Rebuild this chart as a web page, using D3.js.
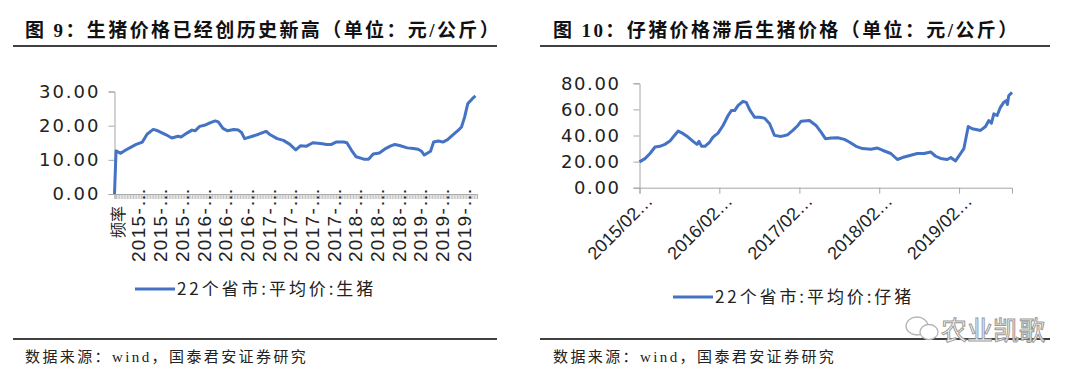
<!DOCTYPE html>
<html>
<head>
<meta charset="utf-8">
<script src="https://cdn.jsdelivr.net/npm/d3@7/dist/d3.min.js"></script>
<style>
  body { margin: 0; background: #fff; }
  svg { display: block; }
</style>
</head>
<body>
<svg id="chart"></svg>
<script>
// ---- figure 9: live hog price, weekly categories (index, price) ----
const hogWeek = [0, 1, 4, 7, 11, 14, 18, 21, 25, 28, 33, 37, 41, 43, 47, 50, 52, 55, 58, 62, 65, 67, 70, 73, 77, 80, 82, 84, 89, 93, 97, 98, 100, 105, 109, 113, 117, 120, 124, 128, 133, 137, 140, 143, 148, 150, 153, 156, 161, 164, 167, 171, 175, 178, 181, 184, 189, 193, 196, 198, 200, 204, 206, 209, 212, 215, 219, 222, 224, 226, 228, 231, 233];
const hogPrice = [0, 12.6, 11.9, 12.8, 13.8, 14.5, 15.2, 17.5, 18.9, 18.5, 17.4, 16.4, 16.9, 16.7, 17.9, 18.7, 18.5, 19.8, 20.1, 20.9, 21.4, 21.1, 19.2, 18.5, 18.9, 18.7, 18.0, 16.2, 16.9, 17.5, 18.2, 18.3, 17.5, 16.2, 15.7, 14.6, 12.9, 14.1, 14.0, 15.0, 14.8, 14.5, 14.5, 15.2, 15.2, 15.0, 12.8, 10.9, 10.2, 10.2, 11.7, 12.0, 13.3, 14.0, 14.5, 14.2, 13.5, 13.3, 13.1, 12.6, 11.4, 12.5, 15.2, 15.5, 15.2, 15.9, 17.5, 18.7, 19.6, 22.5, 26.4, 27.9, 28.7];
const hogWeekCount = 234;
const hogLabelEvery = 14;
const hogLabels = ["频率", "2015-…", "2015-…", "2015-…", "2016-…", "2016-…", "2016-…", "2017-…", "2017-…", "2017-…", "2017-…", "2018-…", "2018-…", "2018-…", "2019-…", "2019-…", "2019-…"];
const hogTicks = [0, 10, 20, 30];

// ---- figure 10: piglet price ----
const pigletDate = ["2015-02-01", "2015-02-26", "2015-03-21", "2015-04-13", "2015-05-05", "2015-05-28", "2015-06-20", "2015-07-05", "2015-07-28", "2015-08-20", "2015-09-11", "2015-10-04", "2015-10-22", "2015-10-31", "2015-11-12", "2015-11-27", "2015-12-19", "2016-01-03", "2016-01-26", "2016-02-18", "2016-03-12", "2016-03-27", "2016-04-11", "2016-04-26", "2016-05-19", "2016-06-03", "2016-06-19", "2016-07-11", "2016-08-03", "2016-08-26", "2016-09-18", "2016-10-10", "2016-11-10", "2016-12-10", "2017-01-02", "2017-01-25", "2017-02-09", "2017-03-19", "2017-04-18", "2017-05-11", "2017-05-31", "2017-06-26", "2017-07-26", "2017-08-26", "2017-09-17", "2017-10-18", "2017-11-17", "2017-12-25", "2018-01-24", "2018-02-16", "2018-03-26", "2018-04-25", "2018-05-18", "2018-06-25", "2018-07-25", "2018-08-25", "2018-09-24", "2018-10-17", "2018-11-09", "2018-12-09", "2018-12-25", "2019-01-16", "2019-02-08", "2019-02-23", "2019-03-15", "2019-04-02", "2019-04-25", "2019-05-10", "2019-06-02", "2019-06-17", "2019-06-29", "2019-07-10", "2019-07-25", "2019-08-09", "2019-08-24", "2019-09-04", "2019-09-10", "2019-09-16", "2019-10-01"];
const pigletPrice = [19.8, 22.3, 26.2, 31.2, 31.7, 33.2, 35.7, 38.8, 43.4, 41.4, 38.8, 35.5, 33.2, 35.5, 31.7, 31.7, 35.0, 38.8, 41.8, 47.7, 55.3, 59.1, 59.1, 62.9, 66.2, 65.4, 59.6, 54.0, 54.0, 53.3, 49.0, 40.1, 39.3, 40.6, 43.9, 47.7, 51.0, 51.5, 47.7, 42.6, 37.6, 38.0, 38.3, 37.0, 35.0, 31.7, 30.0, 29.4, 30.4, 28.7, 26.2, 21.6, 23.1, 24.9, 26.2, 26.2, 27.4, 24.1, 22.4, 21.6, 23.1, 20.5, 26.2, 30.0, 46.9, 45.2, 44.4, 43.9, 46.9, 51.5, 49.4, 56.6, 55.3, 61.6, 65.4, 66.7, 63.7, 70.5, 73.0];
const pigletTickDates = ["2015-02-01", "2016-02-01", "2017-02-01", "2018-02-01", "2019-02-01"];
const pigletLabels = ["2015/02…", "2016/02…", "2017/02…", "2018/02…", "2019/02…"];
const pigletTicks = [0, 20, 40, 60, 80];

const width = 1080, height = 377;
const blue = "#4472C4";
const axisGrey = "#a6a6a6";
const cjkSans = "'Noto Sans CJK SC', 'Noto Sans', sans-serif";
const cjkSerif = "'Liberation Serif', 'Noto Sans CJK SC', serif";
const numFont = "'DejaVu Sans', 'Liberation Sans', sans-serif";

const svg = d3.select("#chart").attr("width", width).attr("height", height);
svg.append("rect").attr("width", width).attr("height", height).attr("fill", "#fff");

// panel frame: title, rules, source
function panelFrame(x0, ruleX1, ruleX2, title) {
  svg.append("text")
    .attr("x", x0).attr("y", 37)
    .style("font-family", cjkSerif).style("font-weight", "bold")
    .style("font-size", "19px").style("letter-spacing", "2.4px")
    .attr("fill", "#111")
    .text(title);
  svg.append("line").attr("x1", ruleX1).attr("x2", ruleX2)
    .attr("y1", 46).attr("y2", 46).attr("stroke", "#000").attr("stroke-width", 1.3);
  svg.append("line").attr("x1", ruleX1).attr("x2", ruleX2)
    .attr("y1", 339).attr("y2", 339).attr("stroke", "#000").attr("stroke-width", 1.3);
  svg.append("text")
    .attr("x", x0).attr("y", 362)
    .style("font-family", cjkSerif).style("font-size", "15px")
    .style("letter-spacing", "2.4px")
    .attr("fill", "#222")
    .text("数据来源：wind，国泰君安证券研究");
}

function legend(x, y, label) {
  svg.append("line").attr("x1", x).attr("x2", x + 40).attr("y1", y).attr("y2", y)
    .attr("stroke", blue).attr("stroke-width", 3);
  svg.append("text").attr("x", x + 42).attr("y", y + 6)
    .style("font-family", cjkSans).style("font-size", "17px")
    .style("letter-spacing", "2.9px")
    .attr("fill", "#222").text(label);
}

// ===================== figure 9 =====================
panelFrame(25, 13, 497, "图 9：生猪价格已经创历史新高（单位：元/公斤）");

const xL = d3.scaleLinear().domain([0, hogWeekCount]).range([114.5, 477]);
const yL = d3.scaleLinear().domain([0, 30]).range([194, 91.5]);

const gL = svg.append("g");

// dense category tick band
gL.append("g")
  .attr("transform", `translate(0,${yL(0)})`)
  .call(d3.axisBottom(xL).tickValues(d3.range(0, hogWeekCount + 1)).tickSize(5).tickFormat(""))
  .call(g => g.select(".domain").attr("stroke", axisGrey))
  .call(g => g.selectAll(".tick line").attr("stroke", "#b3b3b3").attr("stroke-width", 0.8));

gL.append("g")
  .attr("transform", `translate(${xL(0)},0)`)
  .call(d3.axisLeft(yL).tickValues(hogTicks).tickSize(6).tickFormat(d3.format(".2f")).tickPadding(8))
  .call(g => g.select(".domain").attr("stroke", axisGrey))
  .call(g => g.selectAll(".tick line").attr("stroke", axisGrey))
  .call(g => g.selectAll(".tick text").attr("fill", "#222")
    .style("font-family", numFont).style("font-size", "18px").style("letter-spacing", "2px"));

gL.selectAll(".xlab")
  .data(hogLabels)
  .join("text")
  .attr("class", "xlab")
  .attr("transform", (d, i) => `translate(${xL(i * hogLabelEvery + 0.5) + 2},${i === 0 ? 222 : 225}) rotate(-90)`)
  .attr("text-anchor", "middle")
  .attr("dominant-baseline", "central")
  .attr("textLength", (d, i) => i === 0 ? null : 74)
  .attr("lengthAdjust", "spacing")
  .style("font-family", (d, i) => i === 0 ? cjkSans : "'Liberation Sans', Arial, sans-serif")
  .style("font-size", (d, i) => i === 0 ? "16px" : "19px")
  .attr("fill", "#222")
  .text(d => d);

gL.append("path")
  .datum(hogWeek.map((w, i) => [w, hogPrice[i]]))
  .attr("fill", "none")
  .attr("stroke", blue)
  .attr("stroke-width", 3)
  .attr("stroke-linejoin", "round")
  .attr("d", d3.line().x(d => xL(d[0])).y(d => yL(d[1])));

legend(135, 289, "22个省市:平均价:生猪");

// ===================== figure 10 =====================
panelFrame(553, 540, 1050, "图 10：仔猪价格滞后生猪价格（单位：元/公斤）");

const parse = d3.timeParse("%Y-%m-%d");
const xR = d3.scaleTime().domain([parse("2015-02-01"), parse("2019-10-01")]).range([639.5, 1012]);
const yR = d3.scaleLinear().domain([0, 80]).range([187.7, 83.3]);

const gR = svg.append("g");

gR.append("g")
  .attr("transform", `translate(0,${yR(0)})`)
  .call(d3.axisBottom(xR).tickValues(pigletTickDates.map(parse)).tickSize(6).tickFormat(""))
  .call(g => g.select(".domain").attr("stroke", axisGrey))
  .call(g => g.selectAll(".tick line").attr("stroke", axisGrey));

gR.append("g")
  .attr("transform", `translate(${xR.range()[0]},0)`)
  .call(d3.axisLeft(yR).tickValues(pigletTicks).tickSize(6).tickFormat(d3.format(".2f")).tickPadding(13))
  .call(g => g.select(".domain").attr("stroke", axisGrey))
  .call(g => g.selectAll(".tick text").attr("fill", "#222")
    .style("font-family", numFont).style("font-size", "18px").style("letter-spacing", "1.6px"))
  .call(g => g.selectAll(".tick line").attr("stroke", axisGrey));

gR.selectAll(".xlab")
  .data(pigletTickDates)
  .join("text")
  .attr("class", "xlab")
  .attr("transform", d => `translate(${xR(parse(d)) + 10},${yR(0) + 10}) rotate(-45)`)
  .attr("text-anchor", "end")
  .attr("dominant-baseline", "central")
  .style("font-family", "'Liberation Sans', Arial, sans-serif")
  .style("font-size", "18px")
  .attr("fill", "#222")
  .text((d, i) => pigletLabels[i]);

gR.append("path")
  .datum(pigletDate.map((d, i) => [parse(d), pigletPrice[i]]))
  .attr("fill", "none")
  .attr("stroke", blue)
  .attr("stroke-width", 3)
  .attr("stroke-linejoin", "round")
  .attr("d", d3.line().x(d => xR(d[0])).y(d => yR(d[1])));

legend(673, 297, "22个省市:平均价:仔猪");

// watermark
const wm = svg.append("g").attr("transform", "translate(905,328)");
wm.append("ellipse").attr("cx", 12).attr("cy", -2).attr("rx", 11).attr("ry", 9)
  .attr("fill", "none").attr("stroke", "#b5b5b5").attr("stroke-width", 1.3);
wm.append("ellipse").attr("cx", 24).attr("cy", 4).attr("rx", 9).attr("ry", 7.5)
  .attr("fill", "#fff").attr("stroke", "#b5b5b5").attr("stroke-width", 1.3);
wm.append("text").attr("x", 36).attr("y", 12)
  .style("font-family", cjkSans).style("font-size", "26px")
  .attr("fill", "#fff").attr("stroke", "#9a9a9a").attr("stroke-width", 1)
  .text("农业凯歌");
</script>
</body>
</html>
